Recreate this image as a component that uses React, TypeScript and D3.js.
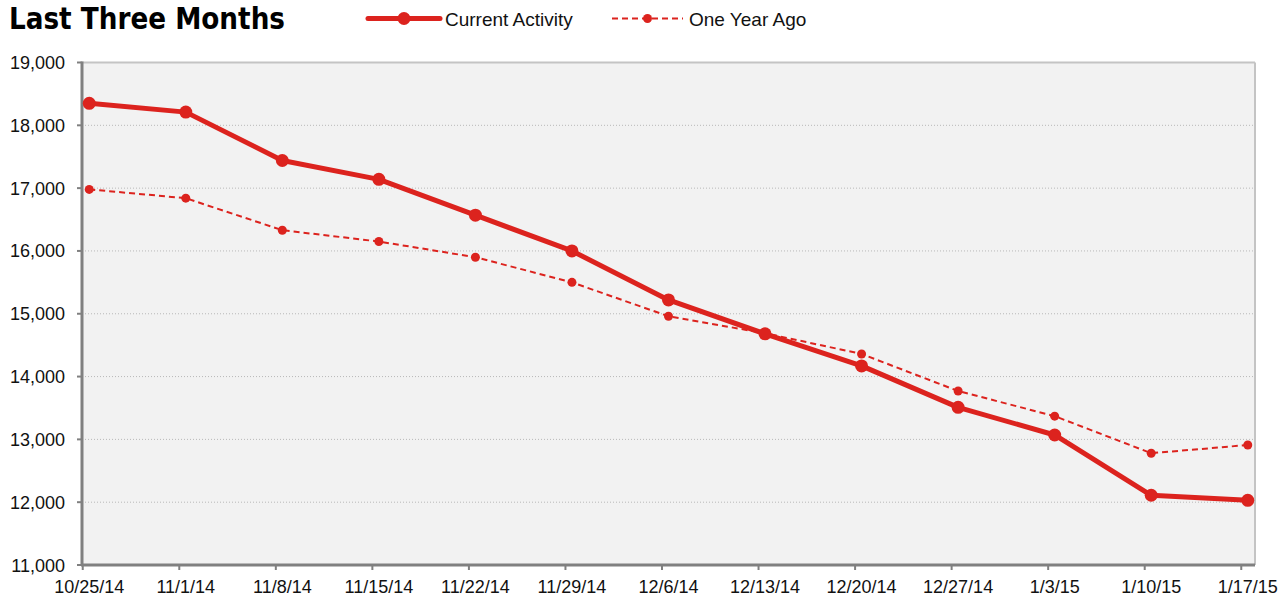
import {useEffect, useRef} from "react";
import * as d3 from "d3";

const dates = [
  "10/25/14", "11/1/14", "11/8/14", "11/15/14", "11/22/14", "11/29/14", "12/6/14",
  "12/13/14", "12/20/14", "12/27/14", "1/3/15", "1/10/15", "1/17/15",
];
const currentActivity = [
  18350, 18210, 17440, 17140, 16570, 16000, 15220, 14680, 14170, 13510, 13070, 12110, 12030,
];
const oneYearAgo = [
  16980, 16840, 16330, 16150, 15900, 15500, 14960, 14690, 14360, 13770, 13370, 12780, 12910,
];
const yTicks = [11000, 12000, 13000, 14000, 15000, 16000, 17000, 18000, 19000];

const RED = "#dc231e";
const FONT = "'Liberation Sans', Arial, sans-serif";

export default function App() {
  const svgRef = useRef<SVGSVGElement>(null);

  useEffect(() => {
    if (!svgRef.current) return;
    const width = 1281;
    const height = 600;
    const left = 82;
    const right = 1255;
    const top = 62.5;
    const bottom = 565;

    const svg = d3.select(svgRef.current);
    svg.selectAll("*").remove();
    svg.attr("width", width).attr("height", height).style("background", "white");

    const x = d3.scalePoint<string>().domain(dates).range([left, right]).padding(0.075);
    const y = d3.scaleLinear().domain([11000, 19000]).range([bottom, top]);
    const tickOffset = -6.5;

    // plot background
    svg.append("rect")
      .attr("x", left).attr("y", top)
      .attr("width", right - left).attr("height", bottom - top)
      .style("fill", "#f2f2f2");

    // grid lines
    svg.selectAll(".grid")
      .data(yTicks.slice(1, -1))
      .enter()
      .append("line")
      .attr("x1", left).attr("x2", right)
      .attr("y1", (d) => y(d)).attr("y2", (d) => y(d))
      .style("stroke", "#b8b8b8")
      .style("stroke-width", 1)
      .style("stroke-dasharray", "1,2");

    // top and right frame
    svg.append("line")
      .attr("x1", left).attr("x2", right).attr("y1", top).attr("y2", top)
      .style("stroke", "#c4c4c4").style("stroke-width", 2);
    svg.append("line")
      .attr("x1", right).attr("x2", right).attr("y1", top).attr("y2", bottom)
      .style("stroke", "#c4c4c4").style("stroke-width", 2);

    // axes
    svg.append("line")
      .attr("x1", left).attr("x2", left).attr("y1", top - 1).attr("y2", bottom + 1)
      .style("stroke", "#808080").style("stroke-width", 3);
    svg.append("line")
      .attr("x1", left - 1).attr("x2", right).attr("y1", bottom).attr("y2", bottom)
      .style("stroke", "#808080").style("stroke-width", 3);

    // y ticks + labels
    svg.selectAll(".ytick")
      .data(yTicks)
      .enter()
      .append("line")
      .attr("x1", left - 5).attr("x2", left)
      .attr("y1", (d) => y(d)).attr("y2", (d) => y(d))
      .style("stroke", "#808080").style("stroke-width", 2);
    svg.selectAll(".ylabel")
      .data(yTicks)
      .enter()
      .append("text")
      .attr("x", left - 17)
      .attr("y", (d) => y(d) + 6.5)
      .style("text-anchor", "end")
      .style("font-family", FONT)
      .style("font-size", "18px")
      .style("fill", "#111")
      .text((d) => d3.format(",")(d));

    // x ticks + labels
    svg.selectAll(".xtick")
      .data(dates)
      .enter()
      .append("line")
      .attr("x1", (d) => (x(d) as number) + tickOffset)
      .attr("x2", (d) => (x(d) as number) + tickOffset)
      .attr("y1", bottom).attr("y2", bottom + 5)
      .style("stroke", "#808080").style("stroke-width", 2);
    svg.selectAll(".xlabel")
      .data(dates)
      .enter()
      .append("text")
      .attr("x", (d) => x(d) as number)
      .attr("y", 593)
      .style("text-anchor", "middle")
      .style("font-family", FONT)
      .style("font-size", "18px")
      .style("fill", "#111")
      .text((d) => d);

    const line = d3.line<number>()
      .x((_, i) => x(dates[i]) as number)
      .y((d) => y(d));

    // one year ago (dashed)
    svg.append("path")
      .attr("d", line(oneYearAgo))
      .style("fill", "none")
      .style("stroke", RED)
      .style("stroke-width", 2)
      .style("stroke-dasharray", "6,4");
    svg.selectAll(".pt2")
      .data(oneYearAgo)
      .enter()
      .append("circle")
      .attr("cx", (_, i) => x(dates[i]) as number)
      .attr("cy", (d) => y(d))
      .attr("r", 4.5)
      .style("fill", RED);

    // current activity
    svg.append("path")
      .attr("d", line(currentActivity))
      .style("fill", "none")
      .style("stroke", RED)
      .style("stroke-width", 5)
      .style("stroke-linejoin", "round");
    svg.selectAll(".pt1")
      .data(currentActivity)
      .enter()
      .append("circle")
      .attr("cx", (_, i) => x(dates[i]) as number)
      .attr("cy", (d) => y(d))
      .attr("r", 6.5)
      .style("fill", RED);

    // title
    svg.append("text")
      .attr("x", 9)
      .attr("y", 29)
      .attr("textLength", 276)
      .attr("lengthAdjust", "spacingAndGlyphs")
      .style("font-family", "'Liberation Sans Narrow', 'DejaVu Sans Condensed', sans-serif")
      .style("font-weight", "bold")
      .style("font-size", "30px")
      .style("fill", "#000")
      .text("Last Three Months");

    // legend
    const legend = [
      {name: "Current Activity", x0: 368, x1: 440, w: 5, r: 6.5, dash: null, tx: 445},
      {name: "One Year Ago", x0: 612, x1: 683, w: 2, r: 4.5, dash: "6,4", tx: 689},
    ];
    const ly = 18.5;
    legend.forEach((l) => {
      svg.append("line")
        .attr("x1", l.x0).attr("x2", l.x1).attr("y1", ly).attr("y2", ly)
        .style("stroke", RED)
        .style("stroke-width", l.w)
        .style("stroke-linecap", l.dash ? "butt" : "round")
        .style("stroke-dasharray", l.dash ?? "none");
      svg.append("circle")
        .attr("cx", (l.x0 + l.x1) / 2).attr("cy", ly).attr("r", l.r)
        .style("fill", RED);
      svg.append("text")
        .attr("x", l.tx).attr("y", 25.5)
        .style("font-family", FONT)
        .style("font-size", "19px")
        .style("fill", "#111")
        .text(l.name);
    });
  }, []);

  return (
    <div style={{position: "absolute", left: 0, top: 0}}>
      <svg ref={svgRef} style={{display: "block"}}></svg>
    </div>
  );
}
